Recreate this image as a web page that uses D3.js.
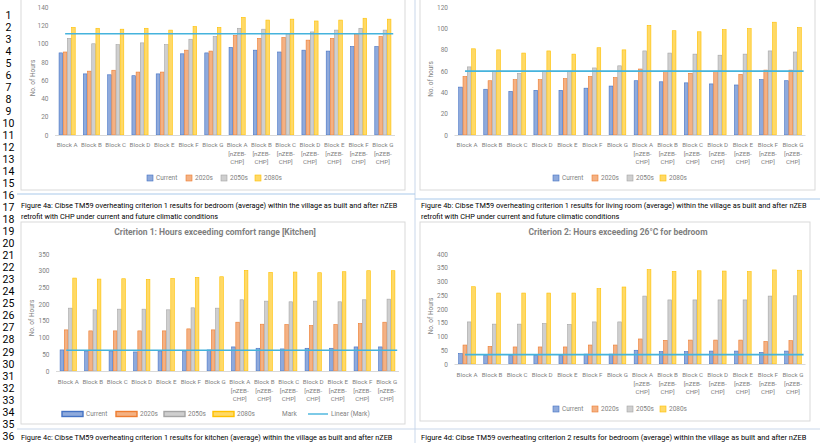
<!DOCTYPE html>
<html lang="en">
<head>
<meta charset="utf-8" />
<title>overheating</title>
<style>
  body { margin: 0; background: #fff; }
  text { font-family: "Roboto", "Liberation Sans", sans-serif; }
  .tick { fill: #7f7f7f; font-size: 6.5px; }
  .cat { fill: #7f7f7f; font-size: 6.2px; }
  .cap { fill: #000; font-size: 9px; }
</style>
</head>
<body>
<script src="https://cdn.jsdelivr.net/npm/d3@7"></script>
<script>
// categories and series
var categories = ["Block A", "Block B", "Block C", "Block D", "Block E", "Block F", "Block G",
  "Block A [nZEB- CHP]", "Block B [nZEB- CHP]", "Block C [nZEB- CHP]", "Block D [nZEB- CHP]",
  "Block E [nZEB- CHP]", "Block F [nZEB- CHP]", "Block G [nZEB- CHP]"];
var seriesNames = ["Current", "2020s", "2050s", "2080s"];

// fig 4a - bedroom, criterion 1
var bedCurrent = [90, 67, 66, 65, 67, 89, 90, 96, 93, 91, 93, 92, 97, 97];
var bed2020s   = [91, 70, 71, 69, 69, 93, 92, 109, 106, 107, 104, 106, 110, 108];
var bed2050s   = [106, 100, 99, 101, 99, 105, 108, 117, 116, 111, 113, 115, 117, 115];
var bed2080s   = [118, 117, 116, 117, 115, 119, 118, 129, 126, 127, 125, 126, 128, 127];
var bedMark = 111;

// fig 4b - living room, criterion 1
var livCurrent = [45, 43, 41, 42, 42, 44, 46, 51, 50, 49, 48, 47, 52, 51];
var liv2020s   = [55, 51, 52, 52, 53, 55, 54, 62, 60, 58, 60, 57, 61, 61];
var liv2050s   = [64, 60, 58, 60, 60, 63, 65, 79, 77, 76, 75, 76, 79, 78];
var liv2080s   = [81, 80, 77, 79, 76, 82, 80, 103, 98, 97, 99, 100, 106, 101];
var livMark = 60;

// fig 4c - kitchen, criterion 1
var kitCurrent = [63, 60, 60, 57, 60, 60, 63, 72, 68, 66, 68, 68, 72, 72];
var kit2020s   = [123, 120, 120, 120, 120, 126, 123, 146, 140, 139, 136, 139, 142, 146];
var kit2050s   = [188, 183, 185, 185, 183, 189, 188, 213, 209, 207, 209, 207, 213, 215];
var kit2080s   = [278, 275, 276, 274, 277, 280, 282, 301, 295, 296, 294, 297, 300, 300];
var kitMark = 62;

// fig 4d - bedroom, criterion 2
var bed2Current = [38, 32, 32, 32, 32, 36, 36, 50, 45, 45, 47, 47, 42, 47];
var bed22020s   = [69, 64, 62, 62, 62, 69, 69, 91, 86, 87, 87, 87, 82, 85];
var bed22050s   = [153, 145, 145, 147, 144, 153, 153, 247, 233, 233, 233, 233, 247, 248];
var bed22080s   = [281, 258, 258, 258, 258, 274, 280, 343, 337, 339, 338, 336, 342, 341];
var bed2Mark = 34;

var captions = [
  ["Figure 4a:  Cibse TM59 overheating criterion 1 results for bedroom (average) within the village as built and after nZEB",
   "retrofit with CHP under current and future climatic conditions"],
  ["Figure 4b:  Cibse TM59 overheating criterion 1 results for living room (average) within the village as built and after nZEB",
   "retrofit with CHP under current and future climatic conditions"],
  ["Figure 4c: Cibse TM59 overheating criterion 1 results for kitchen (average) within the village as built and after nZEB"],
  ["Figure 4d:  Cibse TM59 overheating criterion 2 results for bedroom (average) within the village as built and after nZEB"]
];

var fills   = ["#8faadc", "#f4b183", "#cfcfcf", "#ffd966"];
var strokes = ["#4472c4", "#ed7d31", "#a5a5a5", "#ffc000"];
var markColor = "#45b3dd";

var W = 820, H = 443;
var svg = d3.select("body").append("svg").attr("width", W).attr("height", H);

// page furniture: table rules, line numbers
svg.append("line").attr("x1", 415).attr("x2", 415).attr("y1", 0).attr("y2", H)
  .attr("stroke", "#c9d7ea").attr("stroke-width", 1);
svg.append("line").attr("x1", 17).attr("x2", 415).attr("y1", 194).attr("y2", 194)
  .attr("stroke", "#a9c9ea").attr("stroke-width", 1);
svg.append("line").attr("x1", 415).attr("x2", 820).attr("y1", 199).attr("y2", 199)
  .attr("stroke", "#a9c9ea").attr("stroke-width", 1);
svg.append("line").attr("x1", 17).attr("x2", 820).attr("y1", 429).attr("y2", 429)
  .attr("stroke", "#c9d7ea").attr("stroke-width", 1);

d3.range(1, 37).forEach(function(n) {
  svg.append("text").attr("x", 8.5).attr("y", 15 + (n - 1) * 12.03)
    .attr("dy", "0.35em").attr("text-anchor", "middle")
    .attr("font-size", 10.5).attr("fill", "#000").text(n);
});

// panel frames
[[21, -2, 384, 192], [420, -2, 395, 192], [21, 222, 384, 202], [420, 222, 390, 199]].forEach(function(r) {
  svg.append("rect").attr("x", r[0]).attr("y", r[1]).attr("width", r[2]).attr("height", r[3])
    .attr("fill", "none").attr("stroke", "#d9d9d9");
});

function drawPanel(cfg) {
  var g = svg.append("g");
  var x0 = d3.scaleBand().domain(categories).range([cfg.left, cfg.right])
    .paddingInner(0.31).paddingOuter(0.155);
  var x1 = d3.scaleBand().domain(seriesNames).range([0, x0.bandwidth()]);
  var y = d3.scaleLinear().domain([0, cfg.max]).range([cfg.bottom, cfg.top]);

  // y ticks (no axis line)
  var yAxis = d3.axisLeft(y).tickValues(d3.range(0, cfg.max + 1, cfg.step)).tickSize(0).tickPadding(6.5);
  var ya = g.append("g").attr("transform", "translate(" + cfg.left + ",0)").call(yAxis);
  ya.select(".domain").remove();
  ya.selectAll("text").attr("class", "tick").attr("font-family", null).attr("font-size", null);
  ya.attr("font-family", null).attr("font-size", null);

  g.append("text").attr("class", "tick")
    .attr("transform", "translate(" + cfg.titleX + "," + cfg.titleY + ") rotate(-90)")
    .attr("text-anchor", "middle").attr("dy", "0.35em").text(cfg.yTitle);

  // bars
  var series = cfg.values.map(function(v, i) { return { name: seriesNames[i], i: i, v: v }; });
  g.selectAll("g.ser").data(series).enter().append("g").attr("class", "ser")
    .each(function(s) {
      d3.select(this).selectAll("rect").data(s.v).enter().append("rect")
        .attr("x", function(d, j) { return x0(categories[j]) + x1(s.name) + 0.3; })
        .attr("width", x1.bandwidth() - 0.6)
        .attr("y", function(d) { return y(d); })
        .attr("height", function(d) { return cfg.bottom - y(d); })
        .attr("fill", fills[s.i]).attr("stroke", strokes[s.i]).attr("stroke-width", 0.6);
    });

  // x axis baseline + category labels
  g.append("line").attr("x1", cfg.left).attr("x2", cfg.right)
    .attr("y1", cfg.bottom + 0.5).attr("y2", cfg.bottom + 0.5).attr("stroke", "#d9d9d9");
  categories.forEach(function(c) {
    var parts = c.split(" ").length > 2 ? ["Block " + c.split(" ")[1], "[nZEB-", "CHP]"] : [c];
    var cx = x0(c) + x0.bandwidth() / 2;
    parts.forEach(function(p, k) {
      g.append("text").attr("class", "cat").attr("x", cx).attr("y", cfg.labelY + k * 8.5)
        .attr("dy", "0.35em").attr("text-anchor", "middle").text(p);
    });
  });

  // mark line
  var mx1 = x0(categories[0]) + x0.bandwidth() / 2 - 2;
  var mx2 = x0(categories[categories.length - 1]) + x0.bandwidth() + 2;
  g.append("line").attr("x1", mx1).attr("x2", mx2)
    .attr("y1", y(cfg.mark)).attr("y2", y(cfg.mark))
    .attr("stroke", markColor).attr("stroke-width", 1.6);

  // chart title
  if (cfg.title) {
    g.append("text").attr("x", cfg.titleCx).attr("y", cfg.titleTop).attr("dy", "0.35em")
      .attr("text-anchor", "middle").attr("font-size", 8.5).attr("font-weight", "bold")
      .attr("fill", "#7f7f7f").text(cfg.title);
  }

  // legend
  var lg = g.append("g");
  if (!cfg.wideLegend) {
    seriesNames.forEach(function(n, i) {
      var lx = cfg.legendX[i];
      lg.append("rect").attr("x", lx).attr("y", cfg.legendY - 3).attr("width", 6).attr("height", 6)
        .attr("fill", fills[i]).attr("stroke", strokes[i]).attr("stroke-width", 0.6);
      lg.append("text").attr("class", "tick").attr("x", lx + 9).attr("y", cfg.legendY)
        .attr("dy", "0.35em").text(n);
    });
  } else {
    seriesNames.forEach(function(n, i) {
      var lx = cfg.legendX[i];
      lg.append("rect").attr("x", lx).attr("y", cfg.legendY - 2.5).attr("width", 21).attr("height", 5)
        .attr("fill", fills[i]).attr("stroke", strokes[i]).attr("stroke-width", 1.4);
      lg.append("text").attr("class", "tick").attr("x", lx + 24).attr("y", cfg.legendY)
        .attr("dy", "0.35em").text(n);
    });
    lg.append("text").attr("class", "tick").attr("x", 282).attr("y", cfg.legendY)
      .attr("dy", "0.35em").text("Mark");
    lg.append("line").attr("x1", 308).attr("x2", 328).attr("y1", cfg.legendY).attr("y2", cfg.legendY)
      .attr("stroke", markColor).attr("stroke-width", 1.4);
    lg.append("text").attr("class", "tick").attr("x", 331).attr("y", cfg.legendY)
      .attr("dy", "0.35em").text("Linear (Mark)");
  }
}

drawPanel({ left: 55, right: 395, top: 7.3, bottom: 135, max: 140, step: 20,
  values: [bedCurrent, bed2020s, bed2050s, bed2080s], mark: bedMark,
  yTitle: "No. of Hours", titleX: 33, titleY: 78, labelY: 145,
  legendY: 178, legendX: [147, 186, 221, 255] });

drawPanel({ left: 454.5, right: 805.5, top: 7.3, bottom: 135, max: 120, step: 20,
  values: [livCurrent, liv2020s, liv2050s, liv2080s], mark: livMark,
  yTitle: "No. of hours", titleX: 431, titleY: 79, labelY: 145,
  legendY: 178, legendX: [553, 592, 627, 660] });

drawPanel({ left: 56, right: 399, top: 254, bottom: 371, max: 350, step: 50,
  values: [kitCurrent, kit2020s, kit2050s, kit2080s], mark: kitMark,
  yTitle: "No. of Hours", titleX: 32, titleY: 318, labelY: 382,
  title: "Criterion 1: Hours exceeding comfort range [Kitchen]", titleCx: 215, titleTop: 232,
  wideLegend: true, legendY: 414, legendX: [62, 116, 164, 213] });

drawPanel({ left: 454.5, right: 805.5, top: 254, bottom: 364, max: 400, step: 50,
  values: [bed2Current, bed22020s, bed22050s, bed22080s], mark: bed2Mark,
  yTitle: "No. of Hours", titleX: 431, titleY: 316, labelY: 375,
  title: "Criterion 2: Hours exceeding 26\u00B0C for bedroom", titleCx: 618, titleTop: 232,
  legendY: 409, legendX: [553, 592, 627, 660] });

// captions: font size tuned so each first line fills its cell width
var capPos = [[21, 208, 377], [421, 208, 386], [21, 440, 372], [421, 440, 386]];
captions.forEach(function(lines, i) {
  var p = capPos[i];
  var first = svg.append("text").attr("class", "cap").attr("x", p[0]).attr("y", p[1]).text(lines[0]);
  var fs = 9 * p[2] / first.node().getComputedTextLength();
  first.style("font-size", fs + "px");
  lines.slice(1).forEach(function(t, k) {
    svg.append("text").attr("class", "cap").attr("x", p[0]).attr("y", p[1] + (k + 1) * 11)
      .style("font-size", fs + "px").text(t);
  });
});
</script>
</body>
</html>
